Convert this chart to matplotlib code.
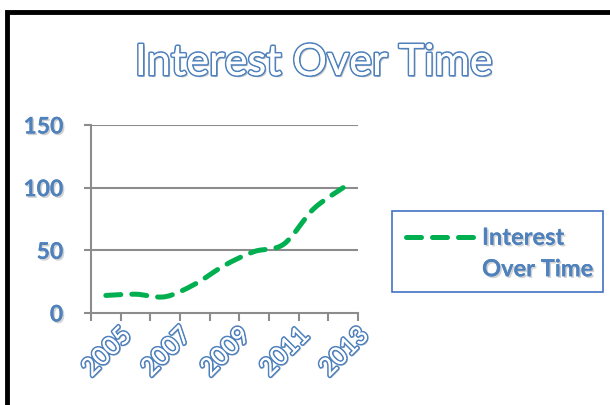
#!/usr/bin/env python3
"""Interest Over Time: dashed smoothed line, Excel-style look."""
import matplotlib
matplotlib.use("Agg")
import matplotlib.pyplot as plt
import matplotlib.patheffects as pe
from matplotlib.path import Path
from matplotlib.patches import PathPatch, Rectangle
from matplotlib.lines import Line2D
import numpy as np

years = [2005, 2006, 2007, 2008, 2009, 2010, 2011, 2012, 2013]
interest = [14, 15, 13, 23, 38, 49, 55, 83, 100]
y_ticks = [0, 50, 100, 150]
x_labels = ["2005", "2007", "2009", "2011", "2013"]

BLUE = "#4F81BD"
GREEN = "#00B050"
GRID = "#8C8C8C"
FONT = "Lato"


def smooth_path(xs, ys, k=1 / 6):
    # Catmull-Rom style Bezier control points, like Excel's smoothed line
    verts = [(xs[0], ys[0])]
    codes = [Path.MOVETO]
    n = len(xs)
    for i in range(n - 1):
        x0, y0 = xs[max(i - 1, 0)], ys[max(i - 1, 0)]
        x1, y1 = xs[i], ys[i]
        x2, y2 = xs[i + 1], ys[i + 1]
        x3, y3 = xs[min(i + 2, n - 1)], ys[min(i + 2, n - 1)]
        verts += [(x1 + (x2 - x0) * k, y1 + (y2 - y0) * k),
                  (x2 - (x3 - x1) * k, y2 - (y3 - y1) * k),
                  (x2, y2)]
        codes += [Path.CURVE4] * 3
    return Path(verts, codes)


fig = plt.figure(figsize=(6.10, 4.05), dpi=100)
fig.patch.set_facecolor("white")

# outer black frame running off the right and bottom edges
fig.patches.append(Rectangle((7 / 610, -0.1), 1.2, (405 - 12) / 405 + 0.1,
                             transform=fig.transFigure, fill=False,
                             edgecolor="black", linewidth=3.5))

ax = fig.add_axes([91 / 610, (405 - 313) / 405, (358 - 91) / 610, 188 / 405])
ax.set_facecolor("none")

x = np.arange(len(years))
patch = PathPatch(smooth_path(list(x), interest), fill=False, edgecolor=GREEN,
                  linewidth=3.6, linestyle=(0, (3, 2.2)), capstyle="round",
                  joinstyle="round", zorder=3)
ax.add_patch(patch)

ax.set_xlim(-0.5, len(years) - 0.5)
ax.set_ylim(0, 150)

for v in y_ticks[1:]:
    ax.axhline(v, color=GRID, linewidth=1.5, zorder=1)

for s in ["top", "right"]:
    ax.spines[s].set_visible(False)
for s in ["left", "bottom"]:
    ax.spines[s].set_color(GRID)
    ax.spines[s].set_linewidth(1.5)

shadow = [pe.withSimplePatchShadow(offset=(1.2, -1.2), alpha=0.35,
                                   shadow_rgbFace="#7f7f7f"), pe.Normal()]

ax.set_yticks(y_ticks)
ax.set_yticklabels([str(v) for v in y_ticks])
ax.tick_params(axis="y", length=5, width=1.5, color=GRID, pad=15)
for lab in ax.get_yticklabels():
    lab.set_fontfamily(FONT)
    lab.set_fontweight("bold")
    lab.set_fontsize(16.5)
    lab.set_color(BLUE)
    lab.set_path_effects(shadow)

# category boundaries carry the ticks, labels sit on every other year
ax.set_xticks(np.arange(-0.5, len(years), 1.0))
ax.set_xticklabels([])
ax.tick_params(axis="x", length=6, width=1.5, color=GRID, direction="out")
for i, lab in enumerate(x_labels):
    t = ax.text(2 * i + 0.45, -8, lab, transform=ax.transData, rotation=45,
                ha="right", va="top", rotation_mode="anchor",
                fontsize=18, fontfamily=FONT, color="white", clip_on=False)
    t.set_path_effects([pe.withSimplePatchShadow(offset=(1.2, -1.2), alpha=0.3),
                        pe.withStroke(linewidth=2.4, foreground=BLUE),
                        pe.Normal()])

title = fig.text(313 / 610, (405 - 63) / 405, "Interest Over Time",
                 ha="center", va="center", fontsize=31, fontfamily=FONT,
                 color="white")
title.set_path_effects([pe.withSimplePatchShadow(offset=(1.5, -1.5), alpha=0.3),
                        pe.withStroke(linewidth=2.4, foreground=BLUE),
                        pe.Normal()])

# legend box drawn by hand to match the two-line label layout
fig.patches.append(Rectangle((392 / 610, (405 - 292) / 405), 211 / 610, 81 / 405,
                             transform=fig.transFigure, fill=False,
                             edgecolor="#4472C4", linewidth=1.2))
fig.lines.append(Line2D([406 / 610, 476 / 610], [(405 - 237) / 405] * 2,
                        transform=fig.transFigure, color=GREEN, linewidth=3.6,
                        linestyle=(0, (3, 2.2)), solid_capstyle="round",
                        dash_capstyle="round"))
leg = fig.text(482 / 610, (405 - 253) / 405, "Interest\nOver Time", ha="left",
               va="center", fontsize=17, fontfamily=FONT, fontweight="bold",
               color=BLUE, linespacing=1.45)
leg.set_path_effects(shadow)

fig.savefig("out.png", dpi=100)
